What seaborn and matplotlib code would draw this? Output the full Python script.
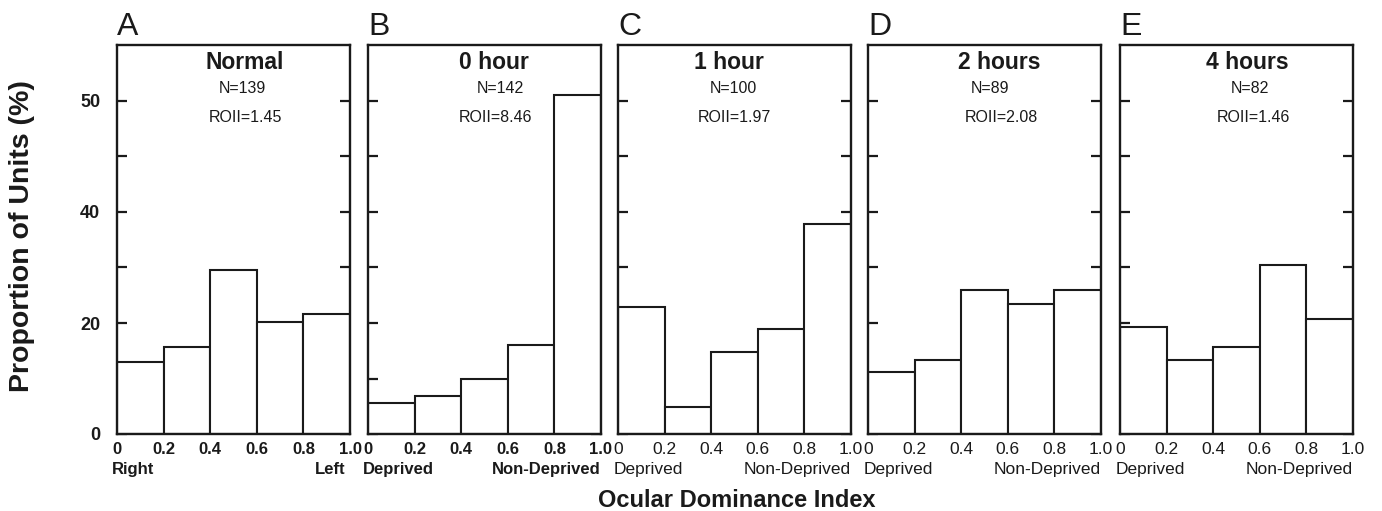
import matplotlib
matplotlib.use("Agg")
import matplotlib.pyplot as plt
import seaborn as sns
import numpy as np

# ---- data ----
bin_edges = [0.0, 0.2, 0.4, 0.6, 0.8, 1.0]
panel_letters = ["A", "B", "C", "D", "E"]
conditions = ["Normal", "0 hour", "1 hour", "2 hours", "4 hours"]
n_units = [139, 142, 100, 89, 82]
roii = ["1.45", "8.46", "1.97", "2.08", "1.46"]
normal_pct = [13.0, 15.7, 29.5, 20.2, 21.6]
hour0_pct = [5.6, 6.8, 9.9, 16.0, 61.0]
hour1_pct = [22.9, 4.9, 14.8, 18.9, 37.8]
hour2_pct = [11.1, 13.3, 25.9, 23.4, 25.9]
hour4_pct = [19.3, 13.3, 15.6, 30.4, 20.8]
xtick_values = [0.0, 0.2, 0.4, 0.6, 0.8, 1.0]
xtick_labels = ["0", "0.2", "0.4", "0.6", "0.8", "1.0"]
ytick_values = [0, 10, 20, 30, 40, 50, 60]
ytick_labels = ["0", "", "20", "", "40", "", "50"]
left_labels = ["Right", "Deprived", "Deprived", "Deprived", "Deprived"]
right_labels = ["Left", "Non-Deprived", "Non-Deprived", "Non-Deprived", "Non-Deprived"]
series = [normal_pct, hour0_pct, hour1_pct, hour2_pct, hour4_pct]

sns.set_theme(style="white")
plt.rcParams["font.family"] = ["Liberation Sans", "DejaVu Sans"]

W, H = 1382, 511
fig = plt.figure(figsize=(W / 100, H / 100), dpi=100)

ax_left_px = [117, 368, 618, 868, 1120]
ax_w_px = 233
ax_top_px, ax_bot_px = 45.5, 434
ax_h_px = ax_bot_px - ax_top_px

title_x = [0.547, 0.540, 0.475, 0.565, 0.546]
n_x = [0.538, 0.569, 0.495, 0.522, 0.556]
r_x = [0.551, 0.547, 0.498, 0.572, 0.572]

centers = [(a + b) / 2 for a, b in zip(bin_edges[:-1], bin_edges[1:])]
ink = "#1a1a1a"

for i in range(5):
    ax = fig.add_axes([ax_left_px[i] / W, 1 - ax_bot_px / H, ax_w_px / W, ax_h_px / H])
    sns.histplot(x=centers, weights=series[i], bins=bin_edges, ax=ax,
                 color="white", edgecolor=ink, linewidth=1.5, alpha=1)
    ax.set_xlim(0, 1)
    ax.set_ylim(0, 70)
    ax.set_xlabel("")
    ax.set_ylabel("")
    for s in ax.spines.values():
        s.set_visible(True)
        s.set_color(ink)
        s.set_linewidth(1.7)
    bold = i < 2
    fs = 12 if bold else 12.5
    fw = "bold" if bold else "normal"
    ax.set_xticks(xtick_values)
    ax.set_xticklabels(xtick_labels, fontsize=fs, fontweight=fw, color=ink)
    ax.tick_params(axis="x", length=0, pad=6)
    ax.set_yticks(ytick_values)
    if i == 0:
        ax.set_yticklabels(ytick_labels, fontsize=13, fontweight="bold", color=ink)
    else:
        ax.set_yticklabels([])
    ax.tick_params(axis="y", direction="in", length=7, width=1.6, left=True, right=True,
                   color=ink, pad=12)
    # annotations
    ax.text(title_x[i], 0.956, conditions[i], transform=ax.transAxes, ha="center", va="center",
            fontsize=16.5, fontweight="bold", color=ink)
    ax.text(n_x[i], 0.889, f"N={n_units[i]}", transform=ax.transAxes, ha="center", va="center",
            fontsize=11.5, color=ink)
    ax.text(r_x[i], 0.815, f"ROII={roii[i]}", transform=ax.transAxes, ha="center", va="center",
            fontsize=11.5, color=ink)
    sub_y = -(469 - ax_bot_px) / ax_h_px
    ax.text(-0.02, sub_y, left_labels[i], transform=ax.transAxes, ha="left", va="center",
            fontsize=fs, fontweight=fw, color=ink)
    ax.text(1.0 if i else 0.98, sub_y, right_labels[i], transform=ax.transAxes, ha="right", va="center",
            fontsize=fs, fontweight=fw, color=ink)
    fig.text(ax_left_px[i] / W, 1 - 35 / H, panel_letters[i], ha="left", va="baseline",
             fontsize=23, color=ink)

fig.text(22.5 / W, 1 - 236 / H, "Proportion of Units (%)", rotation=90, ha="center", va="center",
         fontsize=20.5, fontweight="bold", color=ink)
fig.text(737 / W, 1 - 506.5 / H, "Ocular Dominance Index", ha="center", va="baseline",
         fontsize=17, fontweight="bold", color=ink)

fig.savefig("out.png", dpi=100)
